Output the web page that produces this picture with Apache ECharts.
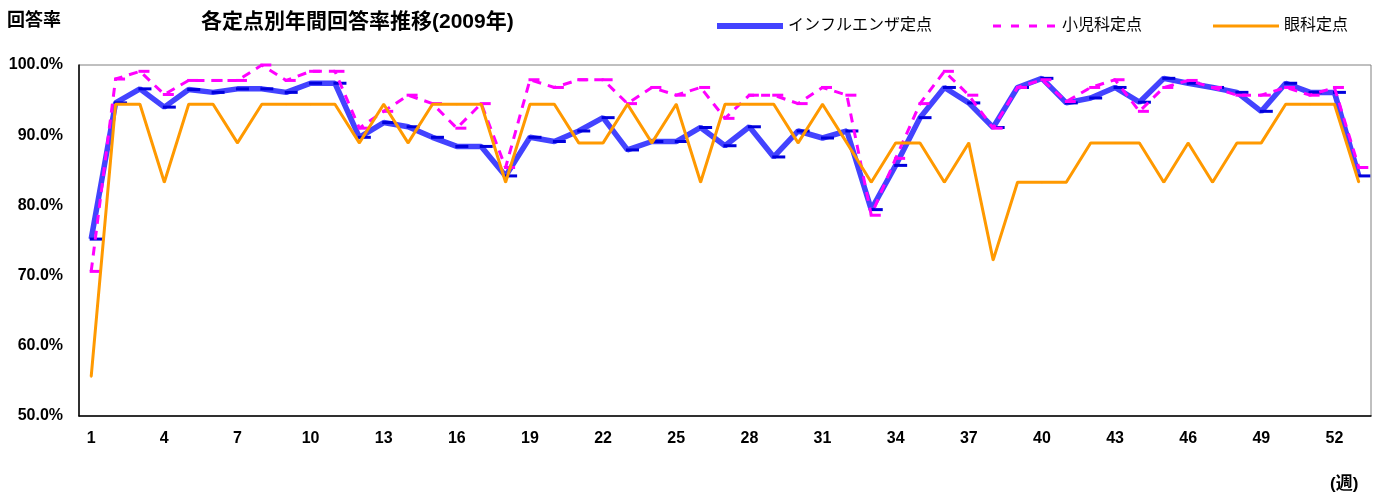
<!DOCTYPE html>
<html><head><meta charset="utf-8">
<script src="https://cdn.jsdelivr.net/npm/echarts@6/dist/echarts.min.js"></script>
<style>html,body{margin:0;padding:0;background:#fff}#c{width:1378px;height:496px}</style>
</head><body><div id="c"></div>
<script>
const weeks = ['1','2','3','4','5','6','7','8','9','10','11','12','13','14','15','16','17','18','19','20','21','22','23','24','25','26','27','28','29','30','31','32','33','34','35','36','37','38','39','40','41','42','43','44','45','46','47','48','49','50','51','52','53'];
const influenza = [75.2,94.6,96.6,94.0,96.5,96.1,96.6,96.6,96.1,97.4,97.4,89.7,91.8,91.2,89.7,88.4,88.4,84.2,89.7,89.1,90.6,92.5,87.9,89.1,89.1,91.1,88.5,91.2,86.9,90.6,89.6,90.6,79.4,85.7,92.5,96.8,94.6,91.1,96.8,98.1,94.6,95.3,96.8,94.7,98.1,97.4,96.8,96.1,93.4,97.4,96.1,96.1,84.2];
const pediatrics = [70.6,98.0,99.1,95.8,97.8,97.8,97.8,100.0,97.8,99.1,99.1,91.0,93.4,95.7,94.5,91.0,94.5,85.4,97.9,96.8,97.9,97.9,94.5,96.8,95.7,96.8,92.4,95.7,95.7,94.5,96.8,95.7,78.6,86.7,94.5,99.1,95.7,91.0,96.8,97.9,94.8,96.8,97.9,93.4,96.8,97.8,96.8,95.7,95.7,96.8,95.7,96.8,85.4];
const ophthalmology = [55.6,94.4,94.4,83.3,94.4,94.4,88.9,94.4,94.4,94.4,94.4,88.9,94.4,88.9,94.4,94.4,94.4,83.3,94.4,94.4,88.9,88.9,94.4,88.9,94.4,83.3,94.4,94.4,94.4,88.9,94.4,88.9,83.3,88.9,88.9,83.3,88.9,72.2,83.3,83.3,83.3,88.9,88.9,88.9,83.3,88.9,83.3,88.9,88.9,94.4,94.4,94.4,83.3];
const seriesNames = ['インフルエンザ定点','小児科定点','眼科定点'];
const yTicks = {min:50, max:100, step:10};

const FONT = '"Liberation Sans", "Noto Sans CJK JP", sans-serif';
const chart = echarts.init(document.getElementById('c'), null, {renderer:'canvas'});
const legendCommon = {top: 13, itemWidth: 66, itemGap: 5,
  textStyle: {fontFamily: FONT, fontSize: 16, color: '#000'}};
chart.setOption({
  animation: false,
  backgroundColor: '#fff',
  title: {text: '各定点別年間回答率推移(2009年)', left: 196, top: 7,
    textStyle: {fontFamily: FONT, fontSize: 21, fontWeight: 'bold', color: '#000'}},
  graphic: [
    {type: 'text', left: 7, top: 12, style: {text: '回答率', font: 'bold 18px ' + FONT, fill: '#000'}},
    {type: 'text', left: 1330, top: 476, style: {text: '(週)', font: 'bold 17px ' + FONT, fill: '#000'}}
  ],
  legend: [
    Object.assign({}, legendCommon, {left: 712, itemHeight: 6,
      data: [{name: seriesNames[0], icon: 'rect', itemStyle: {color: '#4343ff'}}]}),
    Object.assign({}, legendCommon, {left: 988, itemHeight: 3,
      data: [{name: seriesNames[1], icon: 'path://M0,0h8v3h-8z M18,0h8v3h-8z M36,0h8v3h-8z M54,0h8v3h-8z', itemStyle: {color: '#ff00ff'}}]}),
    Object.assign({}, legendCommon, {left: 1208, itemHeight: 3,
      data: [{name: seriesNames[2], icon: 'rect', itemStyle: {color: '#ff9900'}}]})
  ],
  grid: {left: 79, right: 7, top: 65, bottom: 80, show: true, borderColor: '#808080', borderWidth: 1},
  xAxis: {
    type: 'category', data: weeks, boundaryGap: true,
    axisLine: {lineStyle: {color: '#000', width: 1.5}},
    axisTick: {inside: true, interval: 0, length: 5, lineStyle: {color: '#000'}},
    axisLabel: {interval: 2, margin: 15, fontFamily: FONT, fontSize: 16, fontWeight: 'bold', color: '#000'},
    splitLine: {show: false}
  },
  yAxis: {
    type: 'value', min: yTicks.min, max: yTicks.max, interval: yTicks.step,
    axisLine: {show: true, lineStyle: {color: '#000', width: 1.5}},
    axisTick: {show: false},
    splitLine: {show: false},
    axisLabel: {margin: 16, fontFamily: FONT, fontSize: 16, fontWeight: 'bold', color: '#000',
      formatter: v => v.toFixed(1) + '%'}
  },
  series: [
    {name: seriesNames[0], type: 'line', data: influenza, z: 2,
      lineStyle: {color: '#4343ff', width: 5.5},
      itemStyle: {color: '#0000dd'},
      symbol: 'rect', symbolSize: [13, 3], symbolOffset: [5, 0], showSymbol: true},
    {name: seriesNames[1], type: 'line', data: pediatrics, z: 3,
      lineStyle: {color: '#ff00ff', width: 3, type: [9, 7]},
      itemStyle: {color: '#ff00ff'},
      symbol: 'rect', symbolSize: [11, 3], symbolOffset: [4, 0]},
    {name: seriesNames[2], type: 'line', data: ophthalmology, z: 4,
      lineStyle: {color: '#ff9900', width: 3},
      itemStyle: {color: '#ff9900'},
      symbol: 'circle', symbolSize: 2}
  ]
});
</script></body></html>
